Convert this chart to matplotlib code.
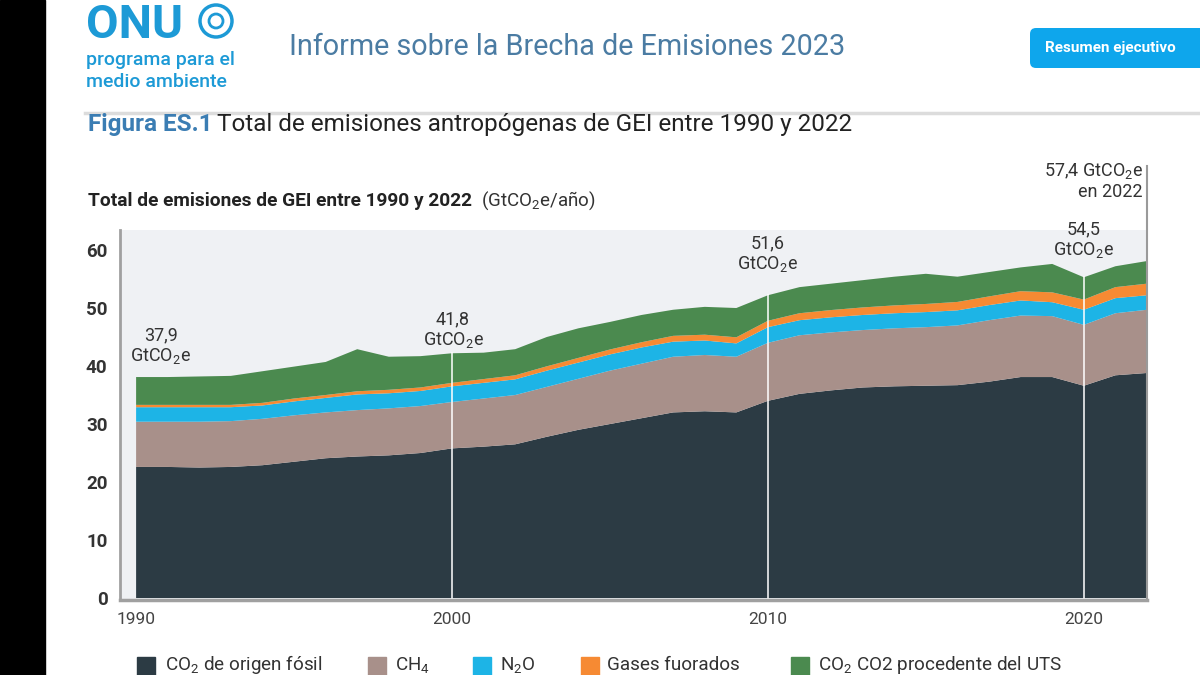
"""Recreate the UNEP Emissions Gap Report 2023 figure ES.1 screenshot (stacked GHG area chart)."""

import matplotlib.pyplot as plt
from matplotlib.lines import Line2D
from matplotlib.patches import Circle, FancyBboxPatch, Rectangle
from matplotlib.transforms import IdentityTransform

_OUTPUT_PATH = "out.png"
_W, _H = 1200, 675

# Data (GtCO2e/year)
years = list(range(1990, 2023))
fossil_co2 = [22.6, 22.6, 22.5, 22.6, 22.9, 23.5, 24.1, 24.4, 24.6, 25.0,
              25.8, 26.1, 26.5, 27.8, 29.0, 30.0, 31.0, 32.0, 32.2, 32.0,
              34.0, 35.2, 35.8, 36.3, 36.5, 36.6, 36.7, 37.3, 38.1, 38.1,
              36.6, 38.4, 38.8]
ch4 = [7.8, 7.8, 7.9, 7.9, 8.0, 8.0, 7.9, 8.0, 8.1, 8.1,
       8.0, 8.3, 8.5, 8.6, 8.8, 9.2, 9.4, 9.6, 9.7, 9.6,
       10.0, 10.1, 10.0, 9.9, 10.0, 10.1, 10.3, 10.6, 10.6, 10.5,
       10.5, 10.7, 10.9]
n2o = [2.5, 2.5, 2.5, 2.4, 2.3, 2.4, 2.5, 2.7, 2.6, 2.6,
       2.7, 2.7, 2.7, 2.8, 2.8, 2.8, 2.8, 2.6, 2.5, 2.3,
       2.7, 2.6, 2.6, 2.6, 2.6, 2.6, 2.6, 2.6, 2.6, 2.4,
       2.6, 2.6, 2.5]
f_gases = [0.4, 0.4, 0.4, 0.4, 0.45, 0.5, 0.5, 0.55, 0.6, 0.6,
           0.6, 0.65, 0.7, 0.75, 0.8, 0.85, 0.9, 1.0, 1.0, 1.05,
           1.1, 1.2, 1.25, 1.3, 1.35, 1.4, 1.45, 1.5, 1.6, 1.7,
           1.75, 1.9, 2.0]
lulucf_co2 = [4.8, 4.8, 4.9, 5.0, 5.45, 5.5, 5.7, 7.25, 5.7, 5.4,
              5.1, 4.55, 4.5, 5.05, 5.1, 4.75, 4.7, 4.5, 4.8, 5.05,
              4.4, 4.5, 4.55, 4.7, 4.95, 5.2, 4.35, 4.2, 4.1, 4.9,
              3.85, 3.6, 3.9]

series_labels = ["CO$_2$ de origen fósil", "CH$_4$", "N$_2$O", "Gases fuorados",
                 "CO$_2$ CO2 procedente del UTS"]
series_colors = ["#2c3b44", "#a8908a", "#1db4e6", "#f68a33", "#4b8a4f"]

marker_years = [2000, 2010, 2020]
total_labels = ["37,9\nGtCO$_2$e", "41,8\nGtCO$_2$e", "51,6\nGtCO$_2$e", "54,5\nGtCO$_2$e"]
total_label_xy = [(1990.78, 43.4), (2000.03, 46.2), (2010.0, 59.3), (2020.0, 61.7)]
y_ticks = [0, 10, 20, 30, 40, 50, 60]
x_ticks = [1990, 2000, 2010, 2020]


def _fx(px: float) -> float:
    return px / _W


def _fy(py: float) -> float:
    return 1 - py / _H


def _header(fig: plt.Figure) -> None:
    """Page chrome: black strip, logo, report title, button, figure title."""
    fig.patches.append(Rectangle((0, 0), _fx(45), 1, transform=fig.transFigure,
                                 color="black", zorder=0))
    blue = "#1d9ad6"
    fig.text(_fx(86), _fy(38), "ONU", fontsize=34, fontweight="bold", color=blue,
             va="baseline", ha="left")
    fig.patches.append(Circle((216, _H - 21), 16, transform=IdentityTransform(),
                              fill=False, edgecolor=blue, linewidth=2.5))
    fig.patches.append(Circle((216, _H - 21), 7, transform=IdentityTransform(),
                              fill=False, edgecolor=blue, linewidth=2))
    fig.text(_fx(86), _fy(60), "programa para el", fontsize=14, fontweight="medium",
             color=blue, va="center")
    fig.text(_fx(86), _fy(82), "medio ambiente", fontsize=14, fontweight="medium",
             color=blue, va="center")
    fig.text(_fx(289), _fy(47), "Informe sobre la Brecha de Emisiones 2023", fontsize=20.7,
             color="#4b7ca3", va="center")
    fig.patches.append(FancyBboxPatch((1030, _H - 68), 200, 40, transform=IdentityTransform(),
                                      boxstyle="round,pad=0,rounding_size=6",
                                      facecolor="#0ea6ec", edgecolor="none"))
    fig.text(_fx(1045), _fy(48), "Resumen ejecutivo", fontsize=11, fontweight="bold",
             color="white", va="center")
    fig.lines.append(Line2D([_fx(85), 1], [_fy(113), _fy(113)], transform=fig.transFigure,
                            color="#dcdcdc", linewidth=2.5))
    fig.text(_fx(88), _fy(125), "Figura ES.1", fontsize=17.5, fontweight="bold",
             color="#3b7db3", va="center")
    fig.text(_fx(217), _fy(125), "Total de emisiones antropógenas de GEI entre 1990 y 2022",
             fontsize=17.5, color="#222222", va="center")
    fig.text(_fx(88), _fy(201), "Total de emisiones de GEI entre 1990 y 2022", fontsize=13.8,
             fontweight="bold", color="#222222", va="center")
    fig.text(_fx(481), _fy(201), "(GtCO$_2$e/año)", fontsize=13.5, color="#333333",
             va="center")


def _legend(fig: plt.Figure) -> None:
    square_x = [137, 368, 473, 581, 791]
    text_x = [165, 395, 500, 607, 818]
    for sx, tx, label, color in zip(square_x, text_x, series_labels, series_colors):
        fig.patches.append(Rectangle((sx, -10), 18, 28, transform=IdentityTransform(),
                                     color=color))
        fig.text(_fx(tx), _fy(665), label, fontsize=13.6, color="#333333", va="center")


def main() -> None:
    plt.rcParams["font.family"] = ["Roboto", "DejaVu Sans"]
    plt.rcParams["mathtext.fontset"] = "custom"
    plt.rcParams["mathtext.rm"] = "Roboto"
    plt.rcParams["mathtext.it"] = "Roboto:italic"
    plt.rcParams["mathtext.bf"] = "Roboto:bold"

    fig = plt.figure(figsize=(_W / 100, _H / 100), dpi=100)
    fig.patch.set_facecolor("white")
    _header(fig)

    ax = fig.add_axes([_fx(120), _fy(600), (1147 - 120) / _W, 370 / _H])
    ax.set_facecolor("#eff1f4")
    ax.stackplot(years, fossil_co2, ch4, n2o, f_gases, lulucf_co2,
                 colors=series_colors, linewidth=0)

    totals = [sum(v) for v in zip(fossil_co2, ch4, n2o, f_gases, lulucf_co2)]
    for yr in marker_years:
        ax.plot([yr, yr], [0, totals[years.index(yr)]], color="white", linewidth=1.3,
                alpha=0.85)
    ax.plot([years[-1], years[-1]], [0, 74.5], color="#9a9a9a", linewidth=1.5,
            clip_on=False)

    for (tx, ty), label in zip(total_label_xy, total_labels):
        ax.text(tx, ty, label, ha="center", va="center", fontsize=13, color="#333333",
                linespacing=1.15)
    ax.text(2021.87, 71.9, "57,4 GtCO$_2$e\nen 2022", ha="right", va="center",
            multialignment="right", fontsize=13, color="#333333", linespacing=1.15,
            clip_on=False)

    ax.set_xlim(1989.49, 2022)
    ax.set_ylim(-0.34, 63.45)
    ax.set_yticks(y_ticks)
    ax.set_xticks(x_ticks)
    ax.tick_params(axis="both", length=0)
    ax.tick_params(axis="y", labelsize=13.5, pad=9, labelcolor="#333333")
    ax.tick_params(axis="x", labelsize=12.5, pad=9, labelcolor="#444444")
    for lbl in ax.get_yticklabels():
        lbl.set_fontweight("bold")
    for side in ("top", "right"):
        ax.spines[side].set_visible(False)
    ax.spines["left"].set_color("#a0a0a0")
    ax.spines["left"].set_linewidth(2)
    ax.spines["bottom"].set_color("#a0a0a0")
    ax.spines["bottom"].set_linewidth(2.5)

    _legend(fig)
    fig.savefig(_OUTPUT_PATH, dpi=100)
    plt.close(fig)


if __name__ == "__main__":
    main()
